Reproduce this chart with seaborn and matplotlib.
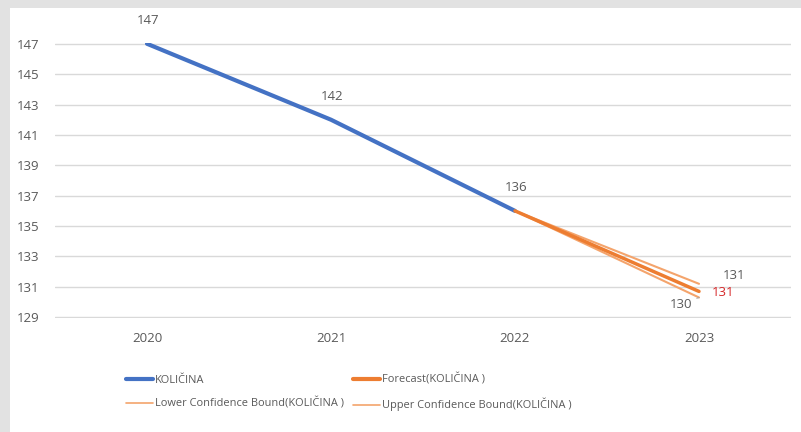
import matplotlib
matplotlib.use("Agg")
import matplotlib.pyplot as plt
import seaborn as sns
import pandas as pd
import numpy as np
from matplotlib.patches import Rectangle
from matplotlib.lines import Line2D

years = ["2020", "2021", "2022", "2023"]
kolicina = [147, 142, 136, np.nan]
forecast = [np.nan, np.nan, 136, 130.7]
lower_bound = [np.nan, np.nan, 136, 130.3]
upper_bound = [np.nan, np.nan, 136, 131.2]
y_ticks = [129, 131, 133, 135, 137, 139, 141, 143, 145, 147]

series_names = ["KOLIČINA", "Forecast(KOLIČINA )",
                "Lower Confidence Bound(KOLIČINA )", "Upper Confidence Bound(KOLIČINA )"]

sns.set_style("white")
plt.rcParams['font.family'] = ['Open Sans', 'DejaVu Sans']

W, H = 801, 432
fig = plt.figure(figsize=(W / 100, H / 100), dpi=100)
fig.patch.set_facecolor("#e2e2e2")
fig.patches.append(Rectangle((10 / W, 0), 1 - 10 / W, 1 - 8 / H, transform=fig.transFigure,
                             facecolor="white", edgecolor="none", zorder=-5))

ax = fig.add_axes([55 / W, 1 - 318 / H, (791 - 55) / W, (318 - 43) / H])
ax.set_facecolor("none")
ax.set_zorder(2)

xpos = np.arange(len(years))
df = pd.DataFrame({"x": xpos, "kol": kolicina, "fc": forecast, "lo": lower_bound, "up": upper_bound})

blue = "#4472C4"
orange = "#ED7D31"
light_orange = "#F4A46C"
txt = "#595959"

d = df.dropna(subset=["kol"])
sns.lineplot(data=d, x="x", y="kol", ax=ax, color=blue, linewidth=3, zorder=3)
d = df.dropna(subset=["lo"])
sns.lineplot(data=d, x="x", y="lo", ax=ax, color=light_orange, linewidth=1.5, zorder=3)
d = df.dropna(subset=["up"])
sns.lineplot(data=d, x="x", y="up", ax=ax, color=light_orange, linewidth=1.5, zorder=3)
d = df.dropna(subset=["fc"])
sns.lineplot(data=d, x="x", y="fc", ax=ax, color=orange, linewidth=2.5, zorder=4)

ax.set_xlim(-0.5, 3.5)
ax.set_ylim(128.95, 147.05)
ax.set_yticks(y_ticks)
ax.set_xticks(xpos)
ax.set_xticklabels(years)
ax.set_xlabel("")
ax.set_ylabel("")
ax.grid(axis="y", color="#d9d9d9", linewidth=1)
ax.set_axisbelow(True)
for s in ax.spines.values():
    s.set_visible(False)
ax.tick_params(axis="both", length=0, colors=txt, labelsize=9.5)
ax.tick_params(axis="y", pad=11)
ax.tick_params(axis="x", pad=10)

fs = 9.5
# data labels
for i in range(3):
    ax.annotate(f"{kolicina[i]:.0f}", (xpos[i], kolicina[i]), xytext=(1, 16.5),
                textcoords="offset points", ha="center", va="center", fontsize=fs, color=txt)
ax.annotate(f"{upper_bound[3]:.0f}", (xpos[3], upper_bound[3]), xytext=(25, 6),
            textcoords="offset points", ha="center", va="center", fontsize=fs, color=txt)
ax.annotate(f"{forecast[3]:.0f}", (xpos[3], forecast[3]), xytext=(17, -0.5),
            textcoords="offset points", ha="center", va="center", fontsize=fs, color="#d62728")
ax.annotate(f"{lower_bound[3]:.0f}", (xpos[3], lower_bound[3]), xytext=(-13, -5),
            textcoords="offset points", ha="center", va="center", fontsize=fs, color=txt,
            arrowprops=dict(arrowstyle="-", color="#a6a6a6", lw=0.7, shrinkA=1, shrinkB=2))

handles = [
    Line2D([], [], color=blue, linewidth=3),
    Line2D([], [], color=light_orange, linewidth=1.2),
    Line2D([], [], color=orange, linewidth=3),
    Line2D([], [], color=light_orange, linewidth=1.2),
]
labels = [series_names[0], series_names[2], series_names[1], series_names[3]]
leg = fig.legend(handles, labels, ncol=2, loc="upper left", bbox_to_anchor=(116 / W, 1 - 364 / H),
                 frameon=False, fontsize=7.9, handlelength=2.5, handletextpad=0.15,
                 columnspacing=0.8, labelspacing=1.1, labelcolor=txt)

fig.savefig("out.png", dpi=100, facecolor=fig.get_facecolor())
